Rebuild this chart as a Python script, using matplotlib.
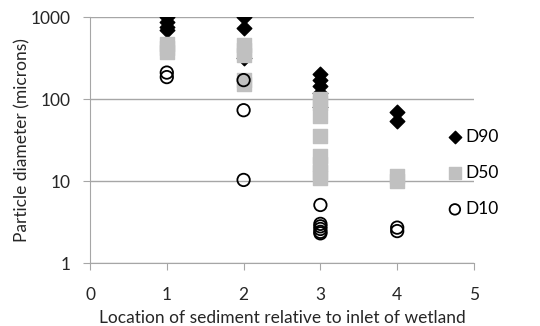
import matplotlib.pyplot as plt

# values (location, diameter in microns)
d90_x = [1, 1, 1, 1, 2, 2, 2, 3, 3, 3, 3, 3, 4, 4]
d90_y = [1000, 870, 760, 690, 1000, 740, 320, 200, 170, 145, 120, 80, 69, 54]

d50_x = [1, 1, 1, 2, 2, 2, 2, 2, 3, 3, 3, 3, 3, 3, 3, 3, 4, 4]
d50_y = [470, 420, 370, 460, 400, 340, 170, 152, 100, 90, 62, 35, 20, 16, 13, 11, 11.5, 10]

d10_x = [1, 1, 2, 2, 2, 3, 3, 3, 3, 3, 3, 4, 4]
d10_y = [210, 185, 170, 73, 10.3, 5.1, 3.0, 2.8, 2.6, 2.4, 2.3, 2.7, 2.45]

x_ticks = [0, 1, 2, 3, 4, 5]
y_ticks = [1, 10, 100, 1000]
y_labels = ["1", "10", "100", "1000"]


def main():
    plt.rcParams["font.family"] = ["Lato", "DejaVu Sans"]
    fig = plt.figure(figsize=(5.4, 3.26), dpi=100)
    ax = fig.add_axes([90 / 540, 1 - 263 / 326, 384 / 540, 246 / 326])

    ax.scatter(d90_x, d90_y, marker="D", s=55, color="black", label="D90", zorder=3)
    ax.scatter(d50_x, d50_y, marker="s", s=110, color="#c0c0c0", label="D50", zorder=4)
    ax.scatter(d10_x, d10_y, marker="o", s=80, facecolors="none",
               edgecolors="black", linewidths=1.3, label="D10", zorder=5)

    ax.set_yscale("log")
    ax.set_ylim(1, 1000)
    ax.set_xlim(0, 5)
    ax.set_yticks(y_ticks)
    ax.set_yticklabels(y_labels)
    ax.minorticks_off()
    ax.set_xticks(x_ticks)
    ax.yaxis.grid(True, color="#a6a6a6", linewidth=1)
    ax.set_axisbelow(True)
    for s in ["top", "right"]:
        ax.spines[s].set_visible(False)
    ax.spines["bottom"].set_color("#a6a6a6")
    ax.spines["left"].set_color("#a6a6a6")
    ax.tick_params(axis="y", length=5, color="#a6a6a6", pad=9, labelsize=12.5, colors="#262626")
    ax.tick_params(axis="y", color="#a6a6a6")
    ax.tick_params(axis="x", length=5, color="#a6a6a6", pad=12, labelsize=12.5, colors="#262626")
    ax.tick_params(axis="x", color="#a6a6a6")
    ax.set_xlabel("Location of sediment relative to inlet of wetland", fontsize=12.5,
                  color="#262626", labelpad=5)
    ax.set_ylabel("Particle diameter (microns)", fontsize=12.5, color="#262626", labelpad=0)

    ax.legend(loc="center left", bbox_to_anchor=(0.905, 0.366), frameon=False,
              fontsize=12.5, handletextpad=0.0, labelspacing=1.15, borderaxespad=0,
              markerscale=0.85, handlelength=1.2)

    fig.savefig("out.png", dpi=100)


if __name__ == "__main__":
    main()
